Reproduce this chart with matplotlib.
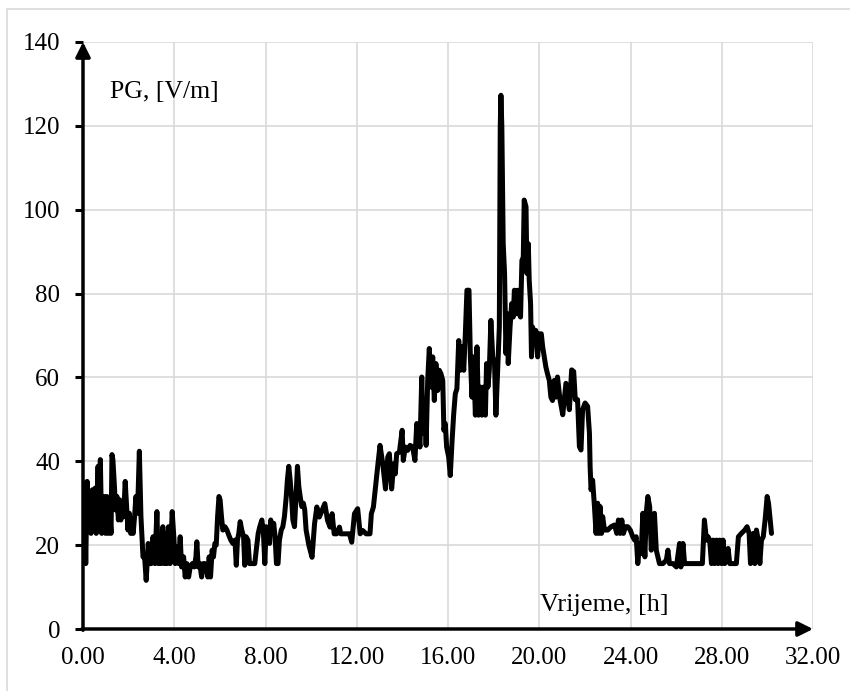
import matplotlib
matplotlib.use("Agg")
import matplotlib.pyplot as plt
from matplotlib.patches import Rectangle

# time [h]
time_h = [
    0.03, 0.06, 0.12, 0.18, 0.23, 0.29, 0.35, 0.41, 0.47, 0.53, 0.58, 0.66, 0.70, 0.76, 0.82, 0.88, 0.93, 0.99,
    1.05, 1.11, 1.17, 1.23, 1.27, 1.31, 1.37, 1.43, 1.49, 1.55, 1.61, 1.66, 1.72, 1.78, 1.85, 1.91, 1.97,
    2.03, 2.09, 2.15, 2.20, 2.26, 2.32, 2.39, 2.47, 2.54, 2.63, 2.70, 2.77, 2.86, 2.92, 2.99,
    3.07, 3.15, 3.24, 3.30, 3.36, 3.42, 3.50, 3.56, 3.62, 3.68, 3.75, 3.82, 3.91, 3.99,
    4.04, 4.12, 4.19, 4.26, 4.32, 4.41, 4.48, 4.55, 4.63, 4.70, 4.79, 4.88, 4.95, 4.99,
    5.05, 5.12, 5.20, 5.27, 5.34, 5.42, 5.47, 5.53, 5.59, 5.66, 5.72, 5.78, 5.84, 5.90, 5.96,
    6.01, 6.07, 6.13, 6.22, 6.31, 6.39, 6.48, 6.57, 6.66, 6.72, 6.77, 6.83, 6.89, 6.96,
    7.04, 7.09, 7.15, 7.23, 7.30, 7.37, 7.45, 7.53, 7.61, 7.68, 7.75, 7.84, 7.91, 7.97,
    8.03, 8.10, 8.18, 8.23, 8.29, 8.36, 8.42, 8.48, 8.55, 8.61, 8.69, 8.76, 8.83, 8.91, 8.96,
    9.02, 9.08, 9.14, 9.20, 9.27, 9.34, 9.40, 9.46, 9.52, 9.59, 9.66, 9.72, 9.78, 9.90,
    10.04, 10.15, 10.25, 10.36, 10.48, 10.60, 10.72, 10.83, 10.92,
    11.01, 11.12, 11.24, 11.30, 11.46, 11.68, 11.78, 11.90,
    12.04, 12.15, 12.26, 12.41, 12.58, 12.64, 12.73, 12.85, 12.93,
    13.02, 13.14, 13.26, 13.36, 13.43, 13.53, 13.62, 13.69, 13.75, 13.87, 13.99,
    14.04, 14.13, 14.23, 14.34, 14.45, 14.55, 14.63, 14.72, 14.77, 14.85, 14.91, 14.98,
    15.04, 15.11, 15.18, 15.26, 15.33, 15.40, 15.47, 15.55, 15.62, 15.69, 15.77, 15.82, 15.88, 15.94,
    16.03, 16.10, 16.18, 16.25, 16.32, 16.39, 16.47, 16.54, 16.61, 16.69, 16.76, 16.83, 16.92, 16.98,
    17.05, 17.12, 17.20, 17.27, 17.34, 17.42, 17.49, 17.56, 17.64, 17.69, 17.75, 17.81, 17.88, 17.96,
    18.04, 18.10, 18.19, 18.25, 18.29, 18.32, 18.36, 18.42, 18.48, 18.54, 18.60, 18.64, 18.72, 18.79, 18.86, 18.91, 18.98,
    19.05, 19.12, 19.18, 19.24, 19.30, 19.34, 19.42, 19.46, 19.52, 19.56, 19.62, 19.66, 19.71, 19.78, 19.85, 19.93,
    20.00, 20.09, 20.15, 20.22, 20.29, 20.36, 20.44, 20.51, 20.58, 20.66, 20.73, 20.80, 20.91,
    21.03, 21.17, 21.32, 21.42, 21.51, 21.58, 21.68, 21.76, 21.83, 21.90,
    22.01, 22.12, 22.20, 22.23, 22.27, 22.34, 22.42, 22.49, 22.56, 22.61, 22.67, 22.73, 22.78, 22.86,
    23.00, 23.15, 23.30, 23.40, 23.47, 23.55, 23.62, 23.69, 23.78, 23.88, 23.99,
    24.10, 24.18, 24.25, 24.32, 24.40, 24.47, 24.54, 24.63, 24.69, 24.76, 24.84, 24.91, 24.98,
    25.05, 25.13, 25.20, 25.27, 25.42, 25.57, 25.64, 25.71, 25.86,
    26.01, 26.15, 26.21, 26.30, 26.37, 26.52, 26.74, 26.96,
    27.15, 27.24, 27.33, 27.40, 27.47, 27.55, 27.62, 27.69, 27.77, 27.84, 27.91, 27.99,
    28.06, 28.13, 28.28, 28.35, 28.50, 28.64, 28.73, 28.86,
    29.01, 29.11, 29.20, 29.26, 29.32, 29.38, 29.45, 29.52, 29.60, 29.67, 29.74, 29.82, 29.90, 29.99,
    30.05, 30.11, 30.18,
]

# potential gradient PG [V/m]
pg_vm = [
    32.0, 34.8, 15.6, 35.2, 23.6, 28.4, 22.8, 33.2, 23.6, 33.6, 22.8, 38.8, 26.0, 40.4, 22.8, 30.0, 31.6, 22.8,
    31.6, 22.8, 27.6, 22.8, 41.6, 40.4, 34.8, 28.4, 31.6, 26.0, 30.8, 26.0, 29.2, 26.8, 35.2, 29.2, 23.6,
    27.6, 22.8, 25.2, 22.8, 26.8, 31.6, 27.6, 42.4, 26.8, 17.2, 17.2, 11.6, 20.4, 15.6, 15.6,
    22.0, 15.6, 28.0, 15.6, 22.0, 15.6, 24.4, 15.6, 22.8, 15.6, 24.4, 15.6, 28.0, 21.2,
    15.6, 19.6, 15.6, 22.0, 14.8, 17.2, 12.4, 15.6, 12.4, 14.8, 15.6, 14.8, 17.2, 20.8,
    14.8, 15.6, 12.4, 15.6, 15.6, 14.0, 12.4, 17.2, 12.4, 18.8, 17.2, 20.4, 20.0, 26.8, 31.6,
    30.8, 26.8, 23.6, 24.4, 23.6, 22.4, 21.2, 20.4, 21.2, 15.2, 21.2, 22.8, 25.6, 23.6,
    22.0, 15.2, 22.0, 21.2, 15.6, 15.6, 15.6, 15.6, 19.6, 22.8, 24.4, 26.0, 22.8, 15.6,
    24.4, 23.6, 20.4, 26.0, 22.8, 25.2, 22.0, 15.6, 15.6, 21.2, 23.6, 24.4, 26.8, 31.6, 35.6,
    38.8, 35.6, 31.6, 26.0, 24.4, 31.6, 38.8, 34.0, 31.6, 29.2, 30.0, 28.4, 23.6, 20.0,
    17.1, 25.1, 29.1, 26.7, 28.3, 29.9, 25.9, 24.3, 27.5,
    22.7, 22.7, 24.3, 22.7, 22.7, 22.7, 20.7, 27.5,
    28.7, 22.7, 23.5, 22.7, 22.7, 27.5, 29.1, 35.4, 39.4,
    43.8, 39.4, 33.4, 41.0, 41.8, 33.4, 39.4, 37.0, 41.8, 42.2, 47.4,
    40.2, 43.4, 42.6, 43.8, 43.4, 40.2, 49.0, 46.6, 43.4, 60.1, 46.6, 54.5,
    43.8, 59.3, 66.9, 57.7, 64.9, 54.5, 63.3, 56.9, 61.7, 60.9, 59.3, 47.4, 49.0, 43.4,
    41.0, 36.6, 45.0, 51.3, 56.1, 57.3, 68.8, 61.7, 67.3, 61.7, 70.4, 80.8, 80.8, 64.9,
    55.3, 64.9, 51.0, 67.3, 51.0, 57.7, 51.0, 57.7, 51.0, 63.3, 57.7, 61.7, 73.6, 64.9,
    63.3, 51.0, 63.3, 72.0, 119.8, 127.3, 119.8, 91.9, 84.8, 65.7, 75.2, 63.3, 72.0, 77.6, 74.4, 80.8, 75.2,
    80.8, 75.2, 74.4, 87.9, 88.7, 102.3, 100.7, 84.8, 91.9, 83.2, 77.6, 64.9, 72.0, 69.6, 71.2, 64.9,
    70.4, 70.4, 67.3, 64.9, 62.5, 60.9, 59.3, 55.3, 54.5, 59.3, 55.3, 60.1, 54.7,
    51.1, 58.6, 52.3, 61.8, 61.4, 54.7, 54.7, 43.5, 42.7, 52.3,
    53.9, 53.1, 46.7, 38.7, 33.2, 35.5, 29.2, 22.8, 30.0, 22.8, 29.2, 22.8, 26.8, 23.6,
    23.6, 24.4, 24.8, 22.8, 26.0, 22.8, 26.0, 22.8, 24.4, 24.4, 23.6,
    22.0, 21.2, 22.0, 15.6, 20.4, 18.0, 27.6, 17.2, 27.6, 31.6, 29.2, 18.8, 24.4,
    27.6, 18.8, 17.2, 15.6, 15.6, 16.4, 18.8, 15.6, 15.6,
    14.8, 20.4, 14.8, 20.4, 15.6, 15.6, 15.6, 15.6,
    15.6, 26.0, 21.2, 22.0, 21.2, 15.6, 21.2, 15.6, 21.2, 15.6, 21.2, 15.6,
    21.2, 15.6, 19.2, 15.6, 15.6, 15.6, 22.0, 22.8,
    23.6, 24.4, 22.8, 15.6, 21.2, 22.8, 15.6, 23.6, 21.2, 15.6, 21.2, 22.0, 26.0, 31.6,
    30.0, 26.8, 22.8,
]

x_ticks = [0, 4, 8, 12, 16, 20, 24, 28, 32]
x_tick_labels = ["0.00", "4.00", "8.00", "12.00", "16.00", "20.00", "24.00", "28.00", "32.00"]
y_ticks = [0, 20, 40, 60, 80, 100, 120, 140]
y_tick_labels = ["0", "20", "40", "60", "80", "100", "120", "140"]

plt.rcParams['font.family'] = ['Liberation Serif', 'DejaVu Serif']

fig = plt.figure(figsize=(8.5, 6.91), dpi=100)
fig.patch.set_facecolor('white')

# outer chart frame
fig.patches.append(Rectangle((7 / 850, -0.05), 1.2, 1 - 9 / 691 + 0.05,
                             transform=fig.transFigure, fill=False,
                             edgecolor='#d9d9d9', linewidth=1.2))

ax = fig.add_axes([83 / 850, 1 - 629 / 691, (813 - 83) / 850, (629 - 42) / 691])
ax.set_xlim(0, 32)
ax.set_ylim(0, 140)

for s in ax.spines.values():
    s.set_visible(False)

ax.set_xticks(x_ticks)
ax.set_xticklabels(x_tick_labels)
ax.set_yticks(y_ticks)
ax.set_yticklabels(y_tick_labels)
ax.tick_params(axis='x', length=0, pad=13, labelsize=18)
ax.tick_params(axis='y', length=5.5, width=2.2, pad=11, labelsize=18, direction='out', color='black')

ax.grid(True, color='#d9d9d9', linewidth=1.2)
ax.set_axisbelow(True)

ax.plot(time_h, pg_vm, color='black', linewidth=3.6, solid_joinstyle='round',
        solid_capstyle='round', zorder=3)

# axes with arrows
ax.annotate('', xy=(32, 0), xytext=(-0.05, 0), xycoords='data',
            arrowprops=dict(arrowstyle='-|>', color='black', lw=2.5,
                            mutation_scale=22, shrinkA=0, shrinkB=0),
            annotation_clip=False, zorder=4)
ax.annotate('', xy=(0, 140), xytext=(0, -0.3), xycoords='data',
            arrowprops=dict(arrowstyle='-|>', color='black', lw=2.5,
                            mutation_scale=22, shrinkA=0, shrinkB=0),
            annotation_clip=False, zorder=4)

ax.text(1.18, 128.1, "PG, [V/m]", fontsize=18.5, ha='left', va='center')
ax.text(20.04, 5.7, "Vrijeme, [h]", fontsize=19, ha='left', va='center')

fig.savefig("out.png", dpi=100, facecolor='white')
